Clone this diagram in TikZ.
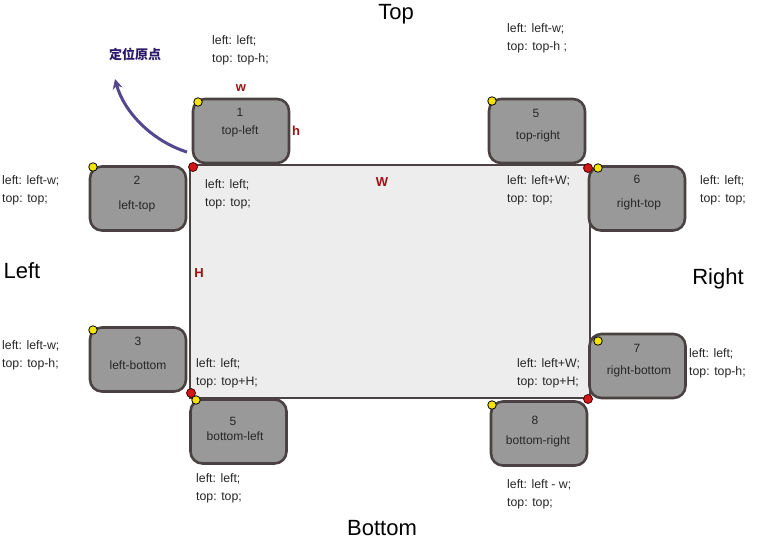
\documentclass[tikz,border=0pt]{standalone}
\usepackage{fontspec}
\setmainfont{Liberation Sans}
\newfontfamily\cjk{Noto Sans CJK SC}
\usetikzlibrary{arrows.meta}
\definecolor{boxfill}{HTML}{999999}
\definecolor{boxdraw}{HTML}{4A4242}
\definecolor{mainfill}{HTML}{EDEDED}
\definecolor{dimred}{HTML}{A01010}
\definecolor{arrowpurple}{HTML}{54468F}
\definecolor{cnpurple}{HTML}{2B1A6B}
\definecolor{dotyellow}{HTML}{F5E400}
\definecolor{dotred}{HTML}{D01818}
\tikzset{
  gbox/.style={draw=boxdraw, fill=boxfill, line width=2.6pt, rounded corners=12pt, minimum width=96pt, minimum height=64pt, inner sep=0pt},
  btxt/.style={font=\fontsize{12}{14}\selectfont, inner sep=0pt, text=black!85},
  ctext/.style={font=\fontsize{12.3}{18}\selectfont, align=left, anchor=west, inner sep=0pt, text=black!85},
  side/.style={font=\fontsize{22}{26}\selectfont, inner sep=0pt},
  dim/.style={font=\bfseries\fontsize{13}{15}\selectfont, text=dimred, inner sep=0pt},
  ydot/.style={circle, fill=dotyellow, draw=black, line width=0.8pt, minimum size=8.5pt, inner sep=0pt},
  rdot/.style={circle, fill=dotred, draw=black!70!red, line width=0.8pt, minimum size=9pt, inner sep=0pt}
}
\begin{document}
\begin{tikzpicture}[x=1pt, y=-1pt]
\useasboundingbox[fill=white] (0,0) rectangle (765,549);
% main rectangle
\node[draw=boxdraw, fill=mainfill, line width=1.6pt, minimum width=400pt, minimum height=233pt, inner sep=0pt] (main) at (390,281.5) {};
% boxes
\node[gbox] (b1) at (241,131) {};
\node[gbox] (b5t) at (537,131) {};
\node[gbox] (b2) at (138,198.5) {};
\node[gbox] (b6) at (637,198.5) {};
\node[gbox] (b3) at (138,359.5) {};
\node[gbox] (b7) at (637.5,366) {};
\node[gbox] (b5b) at (238.5,431.5) {};
\node[gbox] (b8) at (539,433.5) {};
% box texts
\node[btxt] (n1) at (240,112) {1};
\node[btxt] (l1) at (240,131) {top-left};
\node[btxt] (n5t) at (536,113) {5};
\node[btxt] (l5t) at (538,136) {top-right};
\node[btxt] (n2) at (137,180) {2};
\node[btxt] (l2) at (137,206) {left-top};
\node[btxt] (n6) at (637,179) {6};
\node[btxt] (l6) at (639,204) {right-top};
\node[btxt] (n3) at (138,341) {3};
\node[btxt] (l3) at (138,365) {left-bottom};
\node[btxt] (n7) at (637,348) {7};
\node[btxt] (l7) at (639,371) {right-bottom};
\node[btxt] (n5b) at (233,421) {5};
\node[btxt] (l5b) at (235,436) {bottom-left};
\node[btxt] (n8) at (535,420) {8};
\node[btxt] (l8) at (538,441) {bottom-right};
% yellow dots
\node[ydot] (y1) at (198,102) {};
\node[ydot] (y5t) at (492,101) {};
\node[ydot] (y2) at (93,167) {};
\node[ydot] (y6) at (598,168) {};
\node[ydot] (y3) at (93,330) {};
\node[ydot] (y7) at (598,341) {};
\node[ydot] (y5b) at (196,400) {};
\node[ydot] (y8) at (492,405) {};
% red dots
\node[rdot] (r1) at (193,167) {};
\node[rdot] (r2) at (588,168) {};
\node[rdot] (r3) at (191,393) {};
\node[rdot] (r4) at (588,399) {};
% side labels
\node[side] (top) at (396,14) {Top};
\node[side] (bottom) at (382,528) {Bottom};
\node[side] (left) at (22,271) {Left};
\node[side] (right) at (718,279) {Right};
% dimension labels
\node[dim] (dw) at (241,88) {w};
\node[dim] (dh) at (296,131) {h};
\node[dim] (dW) at (382,182) {W};
\node[dim] (dH) at (199,273) {H};
% code texts
\node[ctext] (t1) at (212,50) {left: left;\\top: top-h;};
\node[ctext] (t5t) at (507,38) {left: left-w;\\top: top-h ;};
\node[ctext] (t2) at (2,190) {left: left-w;\\top: top;};
\node[ctext] (tm1) at (205,194) {left: left;\\top: top;};
\node[ctext] (tm2) at (507,190) {left: left+W;\\top: top;};
\node[ctext] (t6) at (700,190) {left: left;\\top: top;};
\node[ctext] (t3) at (2,355) {left: left-w;\\top: top-h;};
\node[ctext] (tm3) at (196,373) {left: left;\\top: top+H;};
\node[ctext] (tm4) at (517,373) {left: left+W;\\top: top+H;};
\node[ctext] (t7) at (689,363) {left: left;\\top: top-h;};
\node[ctext] (t5b) at (196,488) {left: left;\\top: top;};
\node[ctext] (t8) at (507,494) {left: left - w;\\top: top;};
% origin label and arrow
\node[font=\cjk\bfseries\fontsize{13}{15}\selectfont, text=cnpurple, inner sep=0pt] (origin) at (135,54) {定位原点};
\coordinate (astart) at (187,152);
\coordinate (aend) at (115,79);
\draw[arrowpurple, line width=3pt, -{Stealth[length=10pt,width=10pt]}] (astart) .. controls (152,141) and (124,112) .. (aend);
\end{tikzpicture}
\end{document}
